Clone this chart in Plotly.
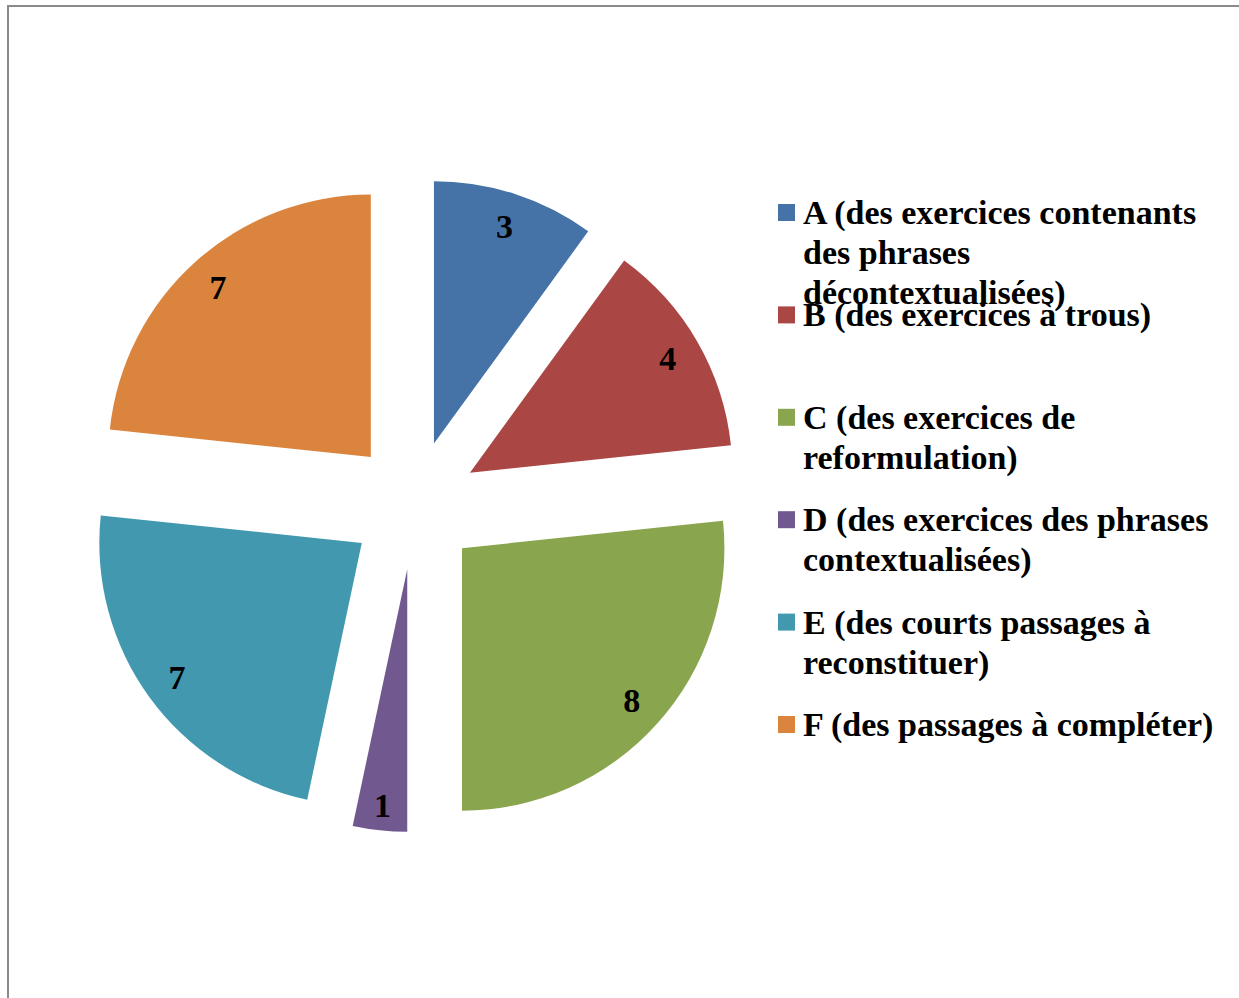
import plotly.graph_objects as go

# ---- data ----
categories = ["A", "B", "C", "D", "E", "F"]
legend_labels = [
    "A (des exercices contenants<br>des phrases<br>décontextualisées)",
    "B (des exercices à trous)",
    "C (des exercices de<br>reformulation)",
    "D (des exercices des phrases<br>contextualisées)",
    "E (des courts passages à<br>reconstituer)",
    "F (des passages à compléter)",
]
values = [3, 4, 8, 1, 7, 7]
colors = ["#4572A7", "#AA4643", "#89A54E", "#71588F", "#4198AF", "#DB843D"]

W, H = 1239, 998
FONT = "Liberation Serif, Times New Roman, serif"
PULL = 0.246

# pie domain (pixels -> paper)
cx, cy, box = 414, 505, 654
dom_x = [(cx - box / 2) / W, (cx + box / 2) / W]
dom_y = [(H - cy - box / 2) / H, (H - cy + box / 2) / H]

full_labels = [l.replace("<br>", " ") for l in legend_labels]

fig = go.Figure()
fig.add_trace(go.Pie(
    labels=full_labels,
    values=values,
    marker=dict(colors=colors, line=dict(width=0)),
    sort=False, direction="clockwise", rotation=0,
    pull=PULL, textinfo="none", hoverinfo="label+value",
    domain=dict(x=dom_x, y=dom_y), showlegend=False,
))
# transparent ring trace that carries the value labels near the outer edge
fig.add_trace(go.Pie(
    labels=full_labels,
    values=values,
    marker=dict(colors=["rgba(0,0,0,0)"] * len(values), line=dict(width=0)),
    sort=False, direction="clockwise", rotation=0, hole=0.74,
    pull=PULL, textinfo="value", textposition="inside",
    insidetextorientation="horizontal",
    textfont=dict(family=FONT, size=34, color="black", weight="bold"),
    hoverinfo="skip",
    domain=dict(x=dom_x, y=dom_y), showlegend=False,
))

# ---- manual legend (squares + text lines) ----
leg_x_sq, leg_x_txt = 778, 801
first_y, item_step, line_step = 213, 102.4, 40
shapes = []
annotations = []
for i, (lab, col) in enumerate(zip(legend_labels, colors)):
    yc = first_y + item_step * i
    shapes.append(dict(type="rect", xref="paper", yref="paper",
                       x0=leg_x_sq / W, x1=(leg_x_sq + 17) / W,
                       y0=1 - (yc - 9) / H, y1=1 - (yc + 8) / H,
                       fillcolor=col, line=dict(width=0)))
    for j, line in enumerate(lab.split("<br>")):
        annotations.append(dict(
            text=line, xref="paper", yref="paper",
            x=leg_x_txt / W, y=1 - (yc + line_step * j) / H,
            xanchor="left", yanchor="middle", showarrow=False,
            font=dict(family=FONT, size=34, color="black", weight="bold"),
        ))

# chart border (top and left visible)
shapes.append(dict(type="line", xref="paper", yref="paper",
                   x0=8 / W, x1=1.05, y0=1 - 6 / H, y1=1 - 6 / H,
                   line=dict(color="#8a8a8a", width=2)))
shapes.append(dict(type="line", xref="paper", yref="paper",
                   x0=8 / W, x1=8 / W, y0=1 - 5 / H, y1=-0.05,
                   line=dict(color="#8a8a8a", width=2)))

fig.update_layout(
    width=W, height=H,
    margin=dict(l=0, r=0, t=0, b=0),
    paper_bgcolor="white", plot_bgcolor="white",
    shapes=shapes, annotations=annotations,
    showlegend=False,
)
fig.write_html("out.html",
               config={"displayModeBar": False},
               post_script="document.body.style.margin='0px';document.body.style.overflow='hidden';")
